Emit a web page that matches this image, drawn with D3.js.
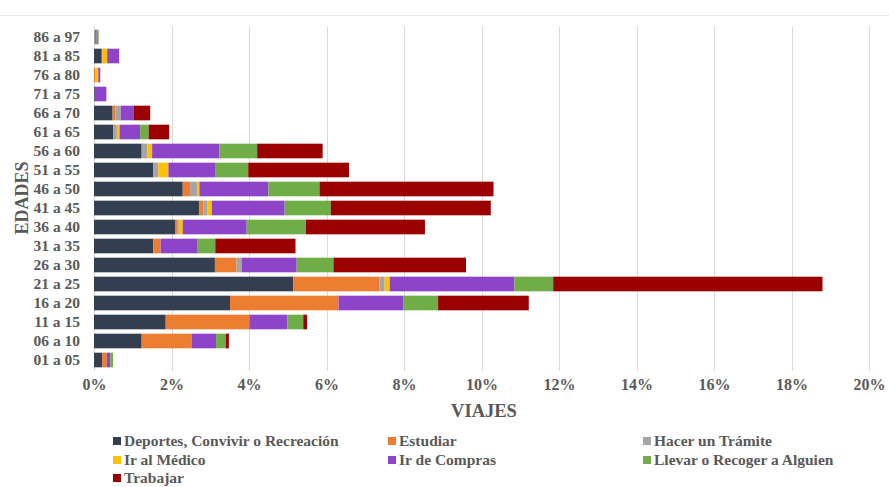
<!DOCTYPE html>
<html>
<head>
<meta charset="utf-8">
<script src="https://cdn.jsdelivr.net/npm/d3@7"></script>
<style>
  body { margin: 0; background: #fff; }
  text { font-family: "Liberation Serif", "Times New Roman", serif; font-weight: bold; }
</style>
</head>
<body>
<div id="chart"></div>
<script>
// edades, de arriba a abajo
var edades = ["86 a 97", "81 a 85", "76 a 80", "71 a 75", "66 a 70", "61 a 65", "56 a 60", "51 a 55",
  "46 a 50", "41 a 45", "36 a 40", "31 a 35", "26 a 30", "21 a 25", "16 a 20", "11 a 15", "06 a 10", "01 a 05"];

var motivos = ["Deportes, Convivir o Recreación", "Estudiar", "Hacer un Trámite", "Ir al Médico",
  "Ir de Compras", "Llevar o Recoger a Alguien", "Trabajar"];

var colores = ["#333f50", "#ed7d31", "#a5a5a5", "#ffc000", "#8e44c8", "#70ad47", "#9b0000"];

// % de viajes por motivo, mismo orden que edades
var deportes = [0.00, 0.20, 0.00, 0.02, 0.48, 0.50, 1.23, 1.53, 2.29, 2.72, 2.09, 1.53, 3.12, 5.14, 3.51, 1.85, 1.23, 0.21];
var estudiar = [0.00, 0.02, 0.03, 0.00, 0.07, 0.00, 0.00, 0.00, 0.19, 0.10, 0.07, 0.19, 0.56, 2.23, 2.80, 2.16, 1.29, 0.12];
var tramite  = [0.03, 0.00, 0.00, 0.00, 0.14, 0.09, 0.15, 0.13, 0.19, 0.10, 0.03, 0.00, 0.13, 0.13, 0.00, 0.00, 0.00, 0.00];
var medico   = [0.00, 0.12, 0.08, 0.00, 0.00, 0.07, 0.12, 0.26, 0.05, 0.12, 0.10, 0.00, 0.00, 0.13, 0.00, 0.00, 0.00, 0.00];
var compras  = [0.04, 0.31, 0.03, 0.30, 0.33, 0.53, 1.73, 1.22, 1.78, 1.88, 1.65, 0.94, 1.42, 3.22, 1.68, 0.98, 0.63, 0.09];
var llevar   = [0.05, 0.00, 0.00, 0.00, 0.00, 0.22, 0.98, 0.84, 1.32, 1.19, 1.53, 0.47, 0.95, 1.00, 0.89, 0.41, 0.25, 0.07];
var trabajar = [0.00, 0.00, 0.02, 0.00, 0.43, 0.53, 1.69, 2.60, 4.49, 4.13, 3.07, 2.07, 3.42, 6.95, 2.34, 0.10, 0.08, 0.00];

var xTicks = [0, 2, 4, 6, 8, 10, 12, 14, 16, 18, 20];

var series = [deportes, estudiar, tramite, medico, compras, llevar, trabajar];
var rows = edades.map(function(e, i) {
  var r = { edad: e };
  motivos.forEach(function(m, j) { r[m] = series[j][i]; });
  return r;
});

var W = 889, H = 487;
var svg = d3.select("#chart").append("svg").attr("width", W).attr("height", H);

// linea superior tenue
svg.append("line").attr("x1", 0).attr("x2", W).attr("y1", 15.5).attr("y2", 15.5)
  .attr("stroke", "#e6e6e6").attr("stroke-width", 1);

var x = d3.scaleLinear().domain([0, 20]).range([94, 869]);
var y = d3.scaleBand().domain(edades).range([27.5, 369.5]).paddingInner(0.23).paddingOuter(0.115);

// rejilla
svg.append("g").selectAll("line").data(xTicks).enter().append("line")
  .attr("x1", function(d) { return Math.round(x(d)) + 0.5; })
  .attr("x2", function(d) { return Math.round(x(d)) + 0.5; })
  .attr("y1", 27).attr("y2", 371)
  .attr("stroke", "#d9d9d9").attr("stroke-width", 1);

var stack = d3.stack().keys(motivos)(rows);

svg.append("g").selectAll("g").data(stack).enter().append("g")
  .attr("fill", function(d, i) { return colores[i]; })
  .selectAll("rect").data(function(d) { return d; }).enter().append("rect")
  .attr("x", function(d) { return x(d[0]); })
  .attr("width", function(d) { return Math.max(0, x(d[1]) - x(d[0])); })
  .attr("y", function(d) { return y(d.data.edad); })
  .attr("height", y.bandwidth());

// eje y
var yAxis = svg.append("g").attr("transform", "translate(94,0)")
  .call(d3.axisLeft(y).tickSize(0).tickPadding(14));
yAxis.select(".domain").remove();
yAxis.selectAll("text").attr("fill", "#595959").style("font-size", "15.5px");

// eje x
var xAxis = svg.append("g").attr("transform", "translate(0,370)")
  .call(d3.axisBottom(x).tickValues(xTicks).tickSize(0).tickPadding(9)
    .tickFormat(function(d) { return d + "%"; }));
xAxis.select(".domain").remove();
xAxis.selectAll("text").attr("fill", "#595959").style("font-size", "16px");

// titulos
svg.append("text").attr("x", 484).attr("y", 417).attr("text-anchor", "middle")
  .attr("fill", "#595959").style("font-size", "18.5px").text("VIAJES");
svg.append("text").attr("transform", "translate(28,198) rotate(-90)").attr("text-anchor", "middle")
  .attr("fill", "#595959").style("font-size", "18px").text("EDADES");

// leyenda
var legPos = [[113, 446], [388, 446], [643, 446], [113, 465], [388, 465], [643, 465], [113, 483]];
var leg = svg.append("g").selectAll("g").data(motivos).enter().append("g")
  .attr("transform", function(d, i) { return "translate(" + legPos[i][0] + "," + legPos[i][1] + ")"; });
leg.append("rect").attr("x", 0).attr("y", -9).attr("width", 8).attr("height", 8)
  .attr("fill", function(d, i) { return colores[i]; });
leg.append("text").attr("x", 11).attr("y", 0).attr("fill", "#595959")
  .style("font-size", "15.5px").text(function(d) { return d; });
</script>
</body>
</html>
